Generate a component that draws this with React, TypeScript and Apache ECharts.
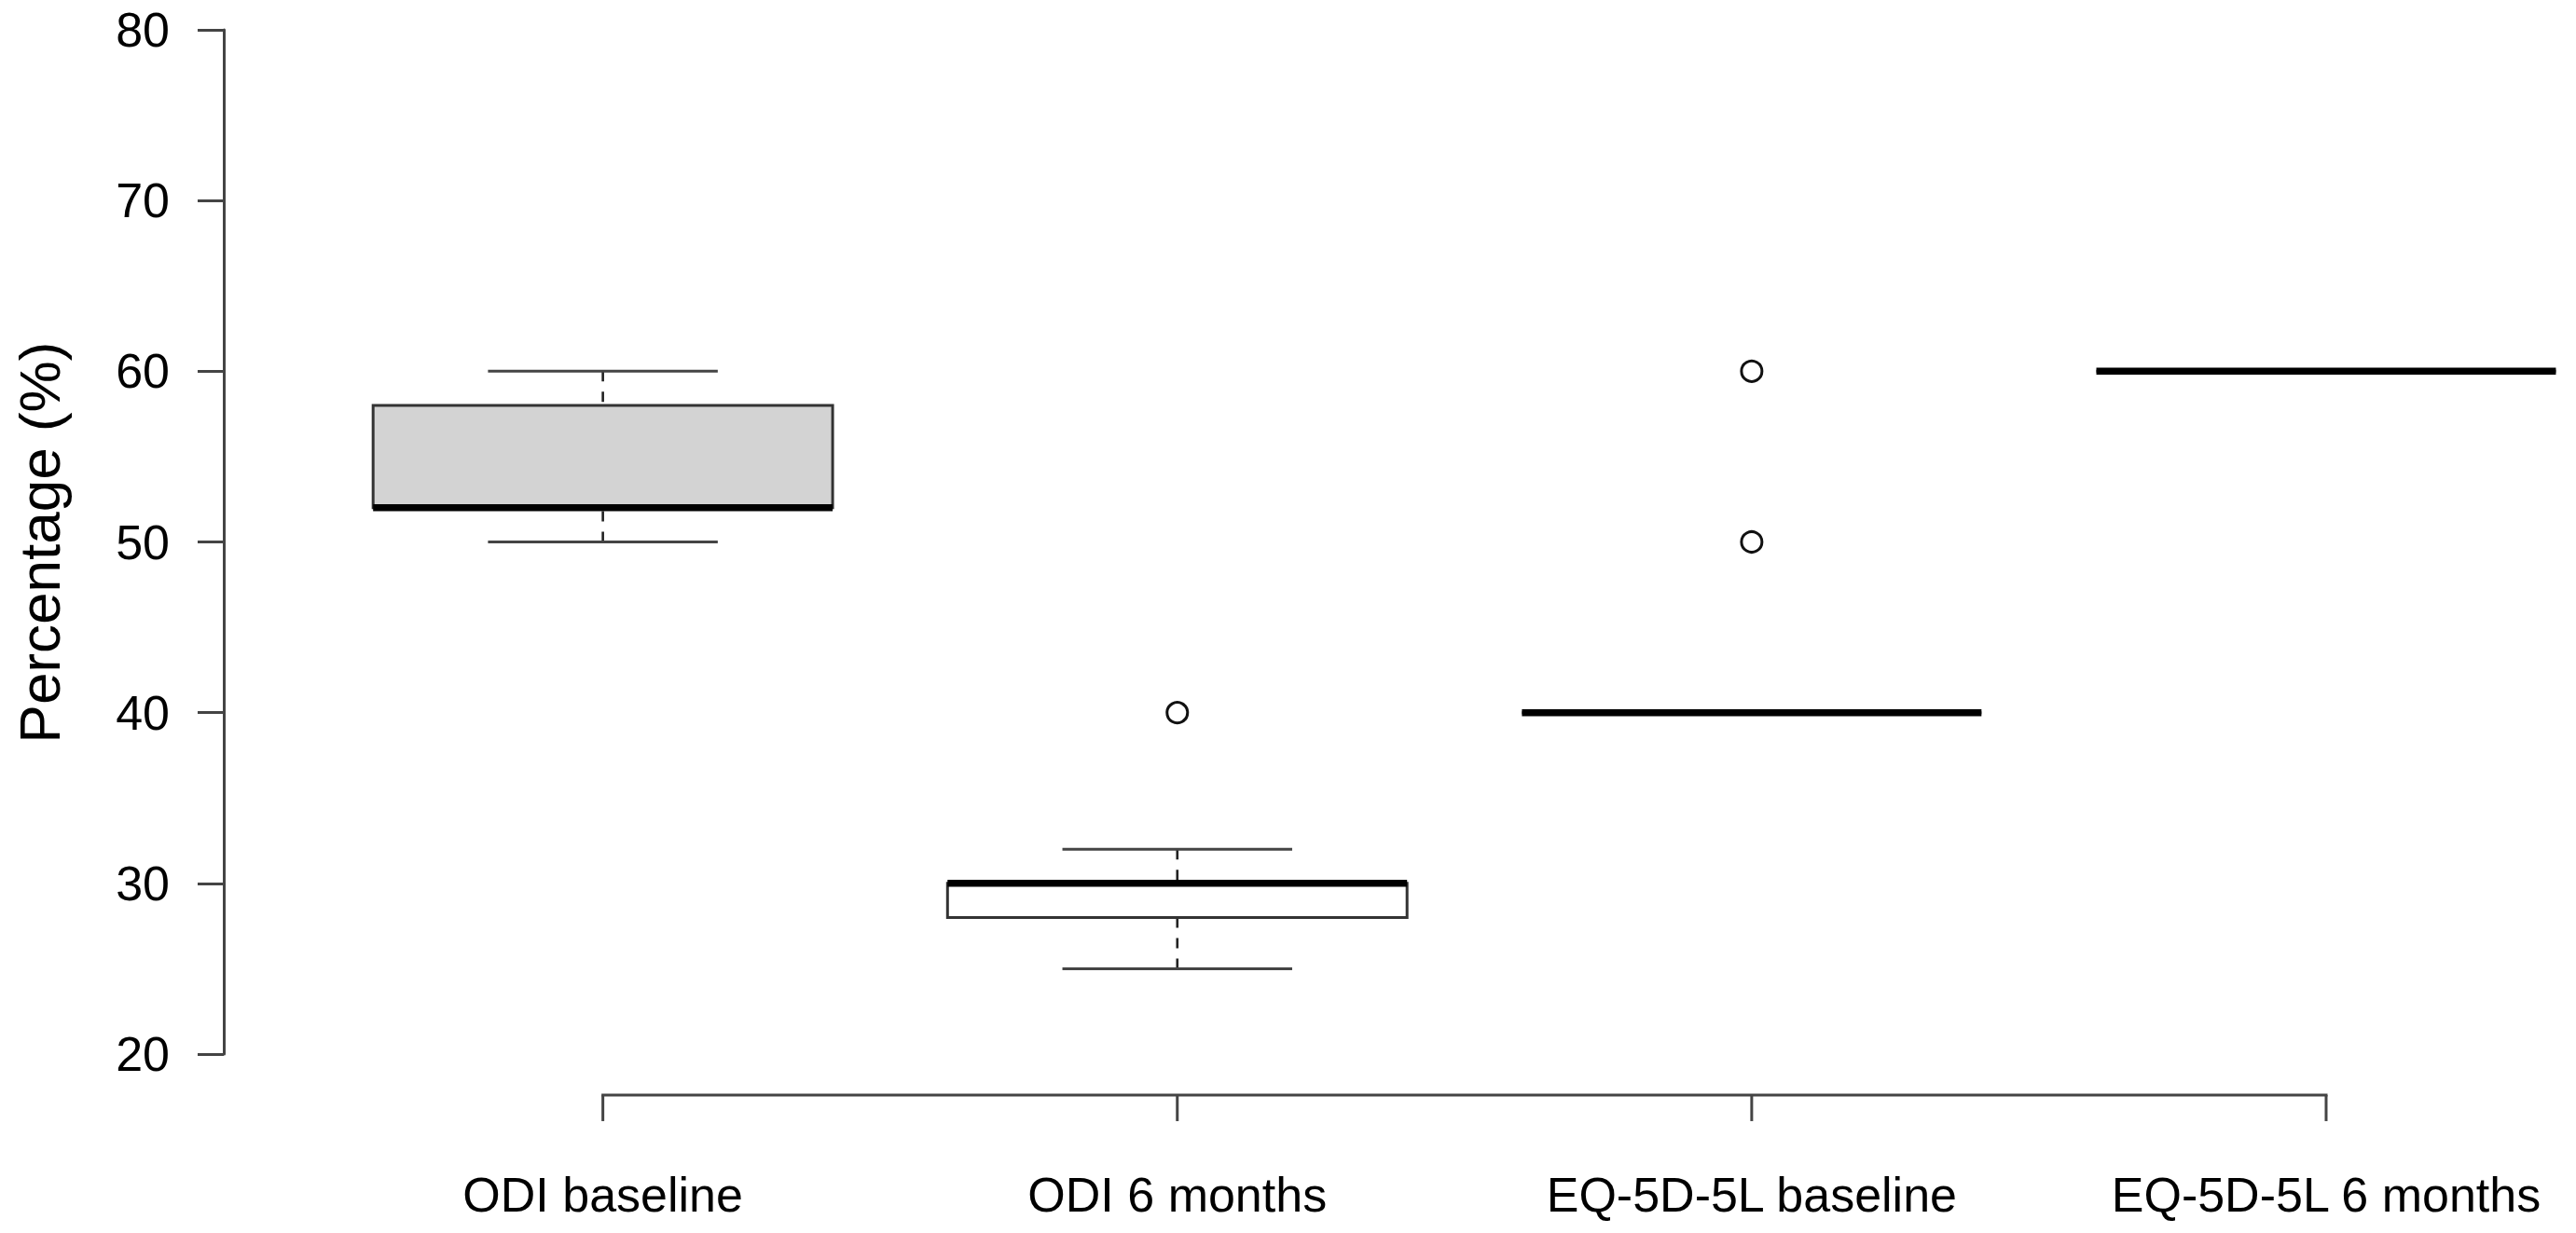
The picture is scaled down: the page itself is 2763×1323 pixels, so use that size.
import React, { useEffect, useRef } from "react";
import * as echarts from "echarts";

// ---- data ----
const categories = ["ODI baseline", "ODI 6 months", "EQ-5D-5L baseline", "EQ-5D-5L 6 months"];
const whiskerLow = [50, 25, 40, 60];
const quartile1 = [52, 28, 40, 60];
const medians = [52, 30, 40, 60];
const quartile3 = [58, 30, 40, 60];
const whiskerHigh = [60, 32, 40, 60];
const outlierGroup = [2, 3, 3];
const outlierValue = [40, 50, 60];
const yMin = 20;
const yMax = 80;
const yStep = 10;

// ---- styles ----
const FILLS = ["#d3d3d3", "#ffffff", "#ffffff", "#ffffff"];
const LINE = "#444444";
const FONT = "'Liberation Sans', Arial, Helvetica, sans-serif";
const BOX_W = 0.8;
const STAPLE_W = 0.4;
const X_AXIS_AT = yMin - 0.04 * (yMax - yMin);

export default function App() {
  const ref = useRef<HTMLDivElement>(null);

  useEffect(() => {
    if (!ref.current) return;
    const chart = echarts.init(ref.current, null, { renderer: "svg" });

    const boxData = categories.map((_, i) => [
      i + 1,
      whiskerLow[i],
      quartile1[i],
      medians[i],
      quartile3[i],
      whiskerHigh[i],
    ]);

    const option: any = {
      animation: false,
      backgroundColor: "#ffffff",
      grid: { left: 240, right: 0, top: 32, bottom: 192, containLabel: false },
      xAxis: {
        type: "value",
        min: 0.34,
        max: 4.435,
        show: false,
      },
      yAxis: {
        type: "value",
        min: yMin,
        max: yMax,
        interval: yStep,
        axisLine: { show: true, lineStyle: { color: LINE, width: 3 } },
        axisTick: { show: true, length: 28, lineStyle: { color: LINE, width: 3 } },
        axisLabel: { show: true, margin: 58, fontSize: 52, color: "#000", fontFamily: FONT },
        splitLine: { show: false },
      },
      graphic: [
        {
          type: "text",
          x: 42,
          y: 582,
          rotation: Math.PI / 2,
          style: {
            text: "Percentage (%)",
            fontSize: 62,
            fontFamily: FONT,
            fill: "#000",
            align: "center",
            verticalAlign: "middle",
          },
        },
      ],
      series: [
        {
          type: "custom",
          clip: false,
          data: boxData,
          renderItem: (params: any, api: any) => {
            const x = api.value(0);
            const lo = api.value(1);
            const q1 = api.value(2);
            const med = api.value(3);
            const q3 = api.value(4);
            const hi = api.value(5);
            const pLoL = api.coord([x - STAPLE_W / 2, lo]);
            const pLoR = api.coord([x + STAPLE_W / 2, lo]);
            const pHiL = api.coord([x - STAPLE_W / 2, hi]);
            const pHiR = api.coord([x + STAPLE_W / 2, hi]);
            const pC_lo = api.coord([x, lo]);
            const pC_q1 = api.coord([x, q1]);
            const pC_q3 = api.coord([x, q3]);
            const pC_hi = api.coord([x, hi]);
            const bL_q3 = api.coord([x - BOX_W / 2, q3]);
            const bR_q1 = api.coord([x + BOX_W / 2, q1]);
            const mL = api.coord([x - BOX_W / 2, med]);
            const mR = api.coord([x + BOX_W / 2, med]);
            const dash = { stroke: "#222", lineWidth: 2.6, lineDash: [11, 11] };
            const thin = { stroke: LINE, lineWidth: 3 };
            return {
              type: "group",
              children: [
                { type: "line", shape: { x1: pC_hi[0], y1: pC_hi[1], x2: pC_q3[0], y2: pC_q3[1] }, style: dash },
                { type: "line", shape: { x1: pC_lo[0], y1: pC_lo[1], x2: pC_q1[0], y2: pC_q1[1] }, style: dash },
                { type: "line", shape: { x1: pHiL[0], y1: pHiL[1], x2: pHiR[0], y2: pHiR[1] }, style: thin },
                { type: "line", shape: { x1: pLoL[0], y1: pLoL[1], x2: pLoR[0], y2: pLoR[1] }, style: thin },
                {
                  type: "rect",
                  shape: {
                    x: bL_q3[0],
                    y: bL_q3[1],
                    width: bR_q1[0] - bL_q3[0],
                    height: bR_q1[1] - bL_q3[1],
                  },
                  style: { fill: FILLS[params.dataIndex], stroke: "#333", lineWidth: 3 },
                },
                {
                  type: "line",
                  shape: { x1: mL[0], y1: mL[1], x2: mR[0], y2: mR[1] },
                  style: { stroke: "#000", lineWidth: 7.5, lineCap: "butt" },
                },
              ],
            };
          },
          z: 2,
        },
        {
          type: "custom",
          clip: false,
          data: categories.map((c, i) => [i + 1]),
          renderItem: (params: any, api: any) => {
            const x = api.value(0);
            const p = api.coord([x, X_AXIS_AT]);
            const children: any[] = [
              { type: "line", shape: { x1: p[0], y1: p[1], x2: p[0], y2: p[1] + 28 }, style: { stroke: LINE, lineWidth: 3 } },
              {
                type: "text",
                x: p[0],
                y: p[1] + 107,
                style: {
                  text: categories[params.dataIndex],
                  fontSize: 52,
                  fontFamily: FONT,
                  fill: "#000",
                  align: "center",
                  verticalAlign: "middle",
                },
              },
            ];
            if (params.dataIndex === 0) {
              const pEnd = api.coord([categories.length, X_AXIS_AT]);
              children.push({
                type: "line",
                shape: { x1: p[0] - 1.5, y1: p[1], x2: pEnd[0] + 1.5, y2: pEnd[1] },
                style: { stroke: LINE, lineWidth: 3 },
              });
            }
            return { type: "group", children };
          },
          z: 1,
        },
        {
          type: "scatter",
          data: outlierGroup.map((g, i) => [g, outlierValue[i]]),
          symbol: "circle",
          symbolSize: 22,
          itemStyle: { color: "#ffffff", borderColor: "#111", borderWidth: 3, opacity: 1 },
          z: 3,
        },
      ],
    };

    chart.setOption(option);
    return () => chart.dispose();
  }, []);

  return (
    <div
      ref={ref}
      style={{
        position: "fixed",
        left: 0,
        top: 0,
        width: "2763px",
        height: "1323px",
        background: "#fff",
      }}
    />
  );
}
